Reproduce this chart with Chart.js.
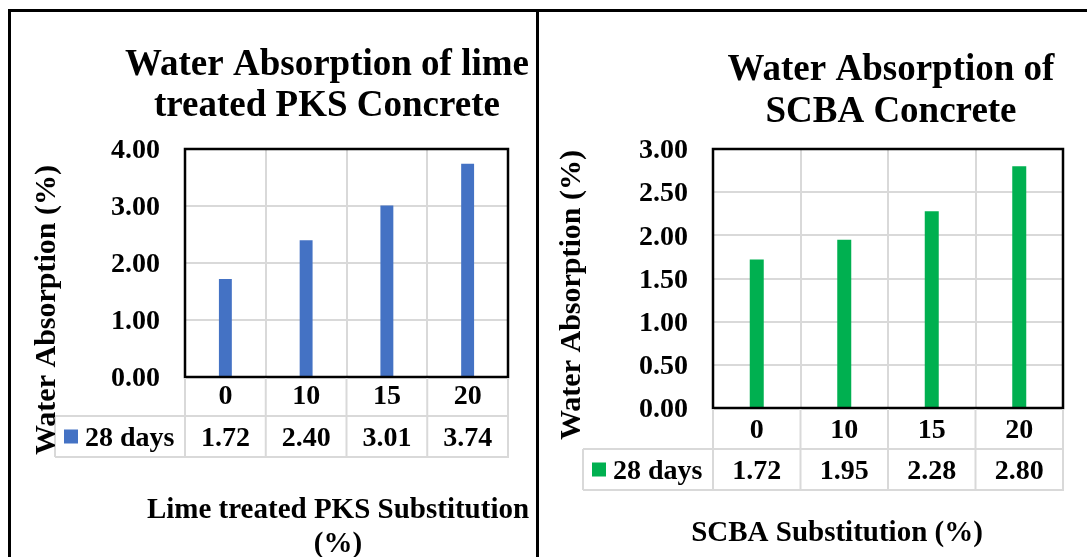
<!DOCTYPE html>
<html>
<head>
<meta charset="utf-8">
<script src="https://cdn.jsdelivr.net/npm/chart.js@4.4.1/dist/chart.umd.min.js"></script>
<style>
  html, body { margin: 0; padding: 0; background: #fff; }
  body { width: 1087px; height: 557px; position: relative; overflow: hidden; }
  .panel { position: absolute; top: 0; height: 557px; }
  #p1 { left: 0; width: 537px; }
  #p2 { left: 537px; width: 550px; }
  .rule { position: absolute; background: #000; }
</style>
</head>
<body>
<div class="panel" id="p1"><canvas id="c1"></canvas></div>
<div class="panel" id="p2"><canvas id="c2"></canvas></div>
<div class="rule" style="left:8px;top:9px;width:1079px;height:3px"></div>
<div class="rule" style="left:8px;top:9px;width:3px;height:548px"></div>
<div class="rule" style="left:536px;top:9px;width:3px;height:548px"></div>

<script>
// Substitution levels (%) shared by both panels
const categories = ['0', '10', '15', '20'];
// Water absorption (%) at 28 days
const pksValues = [1.72, 2.40, 3.01, 3.74];
const scbaValues = [1.72, 1.95, 2.28, 2.80];
const seriesName = '28 days';
// Value-axis ranges
const pksAxis = { min: 0, max: 4, step: 1 };
const scbaAxis = { min: 0, max: 3, step: 0.5 };

const FAMILY = "'Liberation Serif', 'Times New Roman', serif";

// Draws the title, plot frame, data table, legend key and axis titles
const panelDecor = {
  id: 'panelDecor',
  afterDraw(chart, args, o) {
    const ctx = chart.ctx;
    const area = chart.chartArea;
    const xs = chart.scales.x;
    const n = chart.data.labels.length;
    const catW = (area.right - area.left) / n;
    const ds = chart.data.datasets[0];

    ctx.save();
    // plot frame
    ctx.strokeStyle = '#000';
    ctx.lineWidth = 2.5;
    ctx.strokeRect(area.left, area.top, area.right - area.left, area.bottom - area.top);

    // data table grid
    const row1 = area.bottom + o.row1;
    const row2 = row1 + o.row2;
    ctx.strokeStyle = '#d9d9d9';
    ctx.lineWidth = 2;
    ctx.beginPath();
    for (let i = 0; i <= n; i++) {
      const x = area.left + i * catW;
      ctx.moveTo(x, area.bottom + 1);
      ctx.lineTo(x, row2);
    }
    ctx.moveTo(o.legendLeft, row1); ctx.lineTo(area.right, row1);
    ctx.moveTo(o.legendLeft, row2); ctx.lineTo(area.right + 1, row2);
    ctx.moveTo(o.legendLeft, row1); ctx.lineTo(o.legendLeft, row2);
    ctx.stroke();

    // legend key and values row
    const rowMid = (row1 + row2) / 2;
    ctx.fillStyle = ds.backgroundColor;
    ctx.fillRect(o.swatchX, rowMid - 7, 14, 14);
    ctx.fillStyle = '#000';
    ctx.font = 'bold 28px ' + FAMILY;
    ctx.textBaseline = 'middle';
    ctx.textAlign = 'left';
    ctx.fillText(ds.label, o.swatchX + 21, rowMid + 2);
    ctx.textAlign = 'center';
    ds.data.forEach((v, i) => {
      ctx.fillText(v.toFixed(2), xs.getPixelForValue(i), rowMid + 2);
    });

    // chart title
    ctx.font = 'bold 37px ' + FAMILY;
    o.title.forEach((t, i) => ctx.fillText(t, o.titleX, o.titleY[i]));

    // horizontal axis title
    ctx.font = 'bold 29px ' + FAMILY;
    o.xTitle.forEach((t, i) => ctx.fillText(t, o.xTitleX, o.xTitleY[i]));

    // vertical axis title
    ctx.font = 'bold 30px ' + FAMILY;
    ctx.translate(o.yTitleX, o.yTitleY);
    ctx.rotate(-Math.PI / 2);
    ctx.fillText('Water Absorption (%)', 0, 0);
    ctx.restore();
  }
};

function makeChart(id, values, color, axis, geo, decor) {
  return new Chart(document.getElementById(id), {
    type: 'bar',
    data: {
      labels: categories,
      datasets: [{
        label: seriesName,
        data: values,
        backgroundColor: color,
        borderWidth: 0,
        categoryPercentage: 1,
        barPercentage: 0.16
      }]
    },
    options: {
      responsive: true,
      maintainAspectRatio: false,
      animation: false,
      devicePixelRatio: 1,
      layout: { padding: { left: 0, top: 149, right: geo.right, bottom: 0 } },
      plugins: {
        legend: { display: false },
        title: { display: false },
        tooltip: { enabled: false },
        panelDecor: decor
      },
      scales: {
        x: {
          grid: { color: '#d9d9d9', lineWidth: 2, drawTicks: false, offset: true },
          border: { display: false },
          ticks: {
            color: '#000',
            padding: geo.xPad,
            font: { family: FAMILY, size: 28, weight: 'bold', lineHeight: 1 }
          },
          afterFit(s) { s.height = geo.xHeight; }
        },
        y: {
          min: axis.min,
          max: axis.max,
          grid: { color: '#d9d9d9', lineWidth: 2, drawTicks: false },
          border: { display: false },
          ticks: {
            stepSize: axis.step,
            color: '#000',
            padding: 25,
            labelOffset: 2,
            font: { family: FAMILY, size: 28, weight: 'bold', lineHeight: 1 },
            callback: v => Number(v).toFixed(2)
          },
          afterFit(s) { s.width = geo.yWidth; }
        }
      }
    },
    plugins: [panelDecor]
  });
}

makeChart('c1', pksValues, '#4472C4', pksAxis,
  { right: 29, xHeight: 180, yWidth: 185, xPad: 6 },
  {
    title: ['Water Absorption of lime', 'treated PKS Concrete'],
    titleX: 327, titleY: [65, 106],
    xTitle: ['Lime treated PKS Substitution', '(%)'],
    xTitleX: 338, xTitleY: [511, 545],
    yTitleX: 47, yTitleY: 310,
    row1: 39, row2: 41, legendLeft: 55, swatchX: 64
  });

makeChart('c2', scbaValues, '#00B050', scbaAxis,
  { right: 24, xHeight: 149, yWidth: 176, xPad: 9 },
  {
    title: ['Water Absorption of', 'SCBA Concrete'],
    titleX: 354, titleY: [70, 112],
    xTitle: ['SCBA Substitution (%)'],
    xTitleX: 300, xTitleY: [534],
    yTitleX: 35, yTitleY: 295,
    row1: 41, row2: 41, legendLeft: 46, swatchX: 55
  });
</script>
</body>
</html>
